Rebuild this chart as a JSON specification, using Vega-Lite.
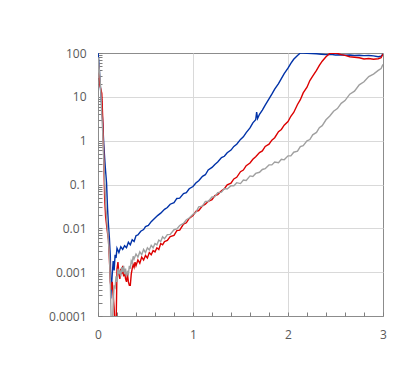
{
  "$schema": "https://vega.github.io/schema/vega-lite/v6.json",
  "width": 285,
  "height": 263,
  "autosize": {"type": "none"},
  "padding": {"left": 98, "top": 53, "right": 16, "bottom": 64},
  "background": "white",
  "config": {"view": {"stroke": "#8c8c8c", "strokeWidth": 1}, "font": "Open Sans"},
  "data": {"values": [
{"s":"blue","x":0,"v":100},{"s":"blue","x":0.01,"v":60},{"s":"blue","x":0.02,"v":25},{"s":"blue","x":0.03,"v":12},{"s":"blue","x":0.04,"v":6},{"s":"blue","x":0.05,"v":2.5},{"s":"blue","x":0.06,"v":0.9},{"s":"blue","x":0.07,"v":0.4},{"s":"blue","x":0.08,"v":0.2},{"s":"blue","x":0.09,"v":0.11},{"s":"blue","x":0.1,"v":0.03},{"s":"blue","x":0.11,"v":0.012},{"s":"blue","x":0.12,"v":0.006},{"s":"blue","x":0.13,"v":0.0022},{"s":"blue","x":0.135,"v":0.00025},{"s":"blue","x":0.14,"v":0.0004},{"s":"blue","x":0.15,"v":0.0009},{"s":"blue","x":0.16,"v":0.0018},{"s":"blue","x":0.17,"v":0.0011},{"s":"blue","x":0.18,"v":0.0025},{"s":"blue","x":0.19,"v":0.0021},{"s":"blue","x":0.2,"v":0.0035},{"s":"blue","x":0.22,"v":0.0028},{"s":"blue","x":0.24,"v":0.0038},{"s":"blue","x":0.26,"v":0.0033},{"s":"blue","x":0.28,"v":0.004},{"s":"blue","x":0.3,"v":0.0036},{"s":"blue","x":0.32,"v":0.0048},{"s":"blue","x":0.34,"v":0.0042},{"s":"blue","x":0.36,"v":0.0055},{"s":"blue","x":0.38,"v":0.005},{"s":"blue","x":0.4,"v":0.0068},{"s":"blue","x":0.42,"v":0.0071},{"s":"blue","x":0.45,"v":0.0086},{"s":"blue","x":0.48,"v":0.0094},{"s":"blue","x":0.5,"v":0.011},{"s":"blue","x":0.53,"v":0.0116},{"s":"blue","x":0.56,"v":0.0142},{"s":"blue","x":0.6,"v":0.0172},{"s":"blue","x":0.63,"v":0.0198},{"s":"blue","x":0.66,"v":0.0222},{"s":"blue","x":0.7,"v":0.0272},{"s":"blue","x":0.73,"v":0.0298},{"s":"blue","x":0.76,"v":0.0355},{"s":"blue","x":0.8,"v":0.0385},{"s":"blue","x":0.83,"v":0.048},{"s":"blue","x":0.86,"v":0.049},{"s":"blue","x":0.9,"v":0.062},{"s":"blue","x":0.93,"v":0.065},{"s":"blue","x":0.96,"v":0.08},{"s":"blue","x":1,"v":0.09},{"s":"blue","x":1.03,"v":0.108},{"s":"blue","x":1.06,"v":0.122},{"s":"blue","x":1.1,"v":0.154},{"s":"blue","x":1.13,"v":0.167},{"s":"blue","x":1.16,"v":0.215},{"s":"blue","x":1.2,"v":0.245},{"s":"blue","x":1.23,"v":0.287},{"s":"blue","x":1.26,"v":0.325},{"s":"blue","x":1.3,"v":0.41},{"s":"blue","x":1.33,"v":0.44},{"s":"blue","x":1.36,"v":0.53},{"s":"blue","x":1.4,"v":0.61},{"s":"blue","x":1.43,"v":0.74},{"s":"blue","x":1.46,"v":0.83},{"s":"blue","x":1.5,"v":1.07},{"s":"blue","x":1.53,"v":1.22},{"s":"blue","x":1.56,"v":1.53},{"s":"blue","x":1.6,"v":1.95},{"s":"blue","x":1.63,"v":2.55},{"s":"blue","x":1.66,"v":3},{"s":"blue","x":1.67,"v":4.5},{"s":"blue","x":1.68,"v":3.2},{"s":"blue","x":1.7,"v":4},{"s":"blue","x":1.73,"v":5},{"s":"blue","x":1.76,"v":6.5},{"s":"blue","x":1.8,"v":9},{"s":"blue","x":1.83,"v":11.5},{"s":"blue","x":1.86,"v":15},{"s":"blue","x":1.9,"v":20},{"s":"blue","x":1.93,"v":26},{"s":"blue","x":1.96,"v":34},{"s":"blue","x":2,"v":45},{"s":"blue","x":2.03,"v":58},{"s":"blue","x":2.06,"v":72},{"s":"blue","x":2.1,"v":88},{"s":"blue","x":2.13,"v":100},{"s":"blue","x":2.16,"v":100},{"s":"blue","x":2.2,"v":98},{"s":"blue","x":2.25,"v":97},{"s":"blue","x":2.3,"v":96},{"s":"blue","x":2.35,"v":94},{"s":"blue","x":2.4,"v":92},{"s":"blue","x":2.45,"v":93},{"s":"blue","x":2.5,"v":90},{"s":"blue","x":2.55,"v":91},{"s":"blue","x":2.6,"v":89},{"s":"blue","x":2.65,"v":90},{"s":"blue","x":2.7,"v":88},{"s":"blue","x":2.75,"v":89},{"s":"blue","x":2.8,"v":87},{"s":"blue","x":2.85,"v":88},{"s":"blue","x":2.9,"v":86},{"s":"blue","x":2.95,"v":82},{"s":"blue","x":2.98,"v":85},{"s":"blue","x":3,"v":95},
{"s":"red","x":0,"v":70},{"s":"red","x":0.01,"v":40},{"s":"red","x":0.02,"v":18},{"s":"red","x":0.03,"v":15},{"s":"red","x":0.04,"v":12},{"s":"red","x":0.05,"v":3},{"s":"red","x":0.06,"v":0.5},{"s":"red","x":0.07,"v":0.05},{"s":"red","x":0.08,"v":0.019},{"s":"red","x":0.09,"v":0.012},{"s":"red","x":0.1,"v":0.008},{"s":"red","x":0.11,"v":0.0055},{"s":"red","x":0.12,"v":0.002},{"s":"red","x":0.13,"v":0.0006},{"s":"red","x":0.14,"v":0.0004},{"s":"red","x":0.15,"v":0.0006},{"s":"red","x":0.16,"v":0.0003},{"s":"red","x":0.17,"v":0.00015},{"s":"red","x":0.18,"v":0.00005},{"s":"red","x":0.19,"v":0.00005},{"s":"red","x":0.2,"v":0.0012},{"s":"red","x":0.21,"v":0.0017},{"s":"red","x":0.22,"v":0.0009},{"s":"red","x":0.23,"v":0.0007},{"s":"red","x":0.24,"v":0.0012},{"s":"red","x":0.25,"v":0.0009},{"s":"red","x":0.26,"v":0.0014},{"s":"red","x":0.27,"v":0.0008},{"s":"red","x":0.28,"v":0.0011},{"s":"red","x":0.29,"v":0.0007},{"s":"red","x":0.3,"v":0.0006},{"s":"red","x":0.31,"v":0.0009},{"s":"red","x":0.32,"v":0.0006},{"s":"red","x":0.33,"v":0.0005},{"s":"red","x":0.34,"v":0.0005},{"s":"red","x":0.35,"v":0.0009},{"s":"red","x":0.36,"v":0.0012},{"s":"red","x":0.37,"v":0.0015},{"s":"red","x":0.38,"v":0.0013},{"s":"red","x":0.39,"v":0.0017},{"s":"red","x":0.4,"v":0.0014},{"s":"red","x":0.42,"v":0.0019},{"s":"red","x":0.44,"v":0.0016},{"s":"red","x":0.46,"v":0.0022},{"s":"red","x":0.48,"v":0.0019},{"s":"red","x":0.5,"v":0.0024},{"s":"red","x":0.52,"v":0.0021},{"s":"red","x":0.54,"v":0.0028},{"s":"red","x":0.56,"v":0.0025},{"s":"red","x":0.58,"v":0.0031},{"s":"red","x":0.6,"v":0.0029},{"s":"red","x":0.62,"v":0.0036},{"s":"red","x":0.64,"v":0.0033},{"s":"red","x":0.66,"v":0.0045},{"s":"red","x":0.68,"v":0.0042},{"s":"red","x":0.7,"v":0.005},{"s":"red","x":0.73,"v":0.0053},{"s":"red","x":0.76,"v":0.0065},{"s":"red","x":0.8,"v":0.0069},{"s":"red","x":0.83,"v":0.0089},{"s":"red","x":0.86,"v":0.0091},{"s":"red","x":0.9,"v":0.0125},{"s":"red","x":0.93,"v":0.0134},{"s":"red","x":0.96,"v":0.0168},{"s":"red","x":1,"v":0.0195},{"s":"red","x":1.03,"v":0.0245},{"s":"red","x":1.06,"v":0.0255},{"s":"red","x":1.1,"v":0.0325},{"s":"red","x":1.13,"v":0.0355},{"s":"red","x":1.16,"v":0.0415},{"s":"red","x":1.2,"v":0.045},{"s":"red","x":1.23,"v":0.056},{"s":"red","x":1.26,"v":0.059},{"s":"red","x":1.3,"v":0.072},{"s":"red","x":1.33,"v":0.08},{"s":"red","x":1.36,"v":0.098},{"s":"red","x":1.4,"v":0.107},{"s":"red","x":1.43,"v":0.134},{"s":"red","x":1.46,"v":0.146},{"s":"red","x":1.5,"v":0.196},{"s":"red","x":1.53,"v":0.214},{"s":"red","x":1.56,"v":0.268},{"s":"red","x":1.6,"v":0.31},{"s":"red","x":1.63,"v":0.375},{"s":"red","x":1.66,"v":0.43},{"s":"red","x":1.7,"v":0.535},{"s":"red","x":1.73,"v":0.585},{"s":"red","x":1.76,"v":0.74},{"s":"red","x":1.8,"v":0.83},{"s":"red","x":1.83,"v":1.03},{"s":"red","x":1.86,"v":1.17},{"s":"red","x":1.9,"v":1.6},{"s":"red","x":1.93,"v":1.8},{"s":"red","x":1.96,"v":2.26},{"s":"red","x":2,"v":2.72},{"s":"red","x":2.03,"v":3.6},{"s":"red","x":2.06,"v":4.4},{"s":"red","x":2.1,"v":6.7},{"s":"red","x":2.13,"v":8.6},{"s":"red","x":2.16,"v":12.3},{"s":"red","x":2.2,"v":16.6},{"s":"red","x":2.23,"v":23.5},{"s":"red","x":2.26,"v":29.5},{"s":"red","x":2.3,"v":40},{"s":"red","x":2.33,"v":52},{"s":"red","x":2.36,"v":65},{"s":"red","x":2.4,"v":82},{"s":"red","x":2.44,"v":98},{"s":"red","x":2.48,"v":100},{"s":"red","x":2.52,"v":98},{"s":"red","x":2.56,"v":92},{"s":"red","x":2.6,"v":88},{"s":"red","x":2.65,"v":82},{"s":"red","x":2.7,"v":80},{"s":"red","x":2.75,"v":78},{"s":"red","x":2.8,"v":73},{"s":"red","x":2.85,"v":75},{"s":"red","x":2.9,"v":72},{"s":"red","x":2.95,"v":74},{"s":"red","x":2.98,"v":78},{"s":"red","x":3,"v":95},
{"s":"gray","x":0,"v":27},{"s":"gray","x":0.005,"v":80},{"s":"gray","x":0.01,"v":50},{"s":"gray","x":0.02,"v":30},{"s":"gray","x":0.03,"v":12},{"s":"gray","x":0.04,"v":4},{"s":"gray","x":0.05,"v":1.5},{"s":"gray","x":0.06,"v":0.4},{"s":"gray","x":0.07,"v":0.12},{"s":"gray","x":0.08,"v":0.04},{"s":"gray","x":0.09,"v":0.018},{"s":"gray","x":0.1,"v":0.01},{"s":"gray","x":0.11,"v":0.005},{"s":"gray","x":0.12,"v":0.0023},{"s":"gray","x":0.13,"v":0.0006},{"s":"gray","x":0.14,"v":0.00005},{"s":"gray","x":0.15,"v":0.00005},{"s":"gray","x":0.16,"v":0.0002},{"s":"gray","x":0.17,"v":0.0005},{"s":"gray","x":0.18,"v":0.00045},{"s":"gray","x":0.19,"v":0.0008},{"s":"gray","x":0.2,"v":0.0006},{"s":"gray","x":0.21,"v":0.0012},{"s":"gray","x":0.22,"v":0.0009},{"s":"gray","x":0.23,"v":0.0011},{"s":"gray","x":0.24,"v":0.0008},{"s":"gray","x":0.25,"v":0.0013},{"s":"gray","x":0.26,"v":0.001},{"s":"gray","x":0.27,"v":0.0014},{"s":"gray","x":0.28,"v":0.0009},{"s":"gray","x":0.29,"v":0.0012},{"s":"gray","x":0.3,"v":0.0008},{"s":"gray","x":0.31,"v":0.001},{"s":"gray","x":0.32,"v":0.0009},{"s":"gray","x":0.33,"v":0.0014},{"s":"gray","x":0.34,"v":0.0012},{"s":"gray","x":0.35,"v":0.0018},{"s":"gray","x":0.36,"v":0.0016},{"s":"gray","x":0.37,"v":0.0023},{"s":"gray","x":0.38,"v":0.002},{"s":"gray","x":0.4,"v":0.0026},{"s":"gray","x":0.42,"v":0.0022},{"s":"gray","x":0.44,"v":0.0029},{"s":"gray","x":0.46,"v":0.0025},{"s":"gray","x":0.48,"v":0.0033},{"s":"gray","x":0.5,"v":0.0028},{"s":"gray","x":0.52,"v":0.0036},{"s":"gray","x":0.54,"v":0.0032},{"s":"gray","x":0.56,"v":0.0041},{"s":"gray","x":0.58,"v":0.0036},{"s":"gray","x":0.6,"v":0.0045},{"s":"gray","x":0.62,"v":0.0042},{"s":"gray","x":0.64,"v":0.0054},{"s":"gray","x":0.66,"v":0.005},{"s":"gray","x":0.68,"v":0.0064},{"s":"gray","x":0.7,"v":0.0058},{"s":"gray","x":0.73,"v":0.0072},{"s":"gray","x":0.76,"v":0.0073},{"s":"gray","x":0.8,"v":0.0093},{"s":"gray","x":0.83,"v":0.0097},{"s":"gray","x":0.86,"v":0.0116},{"s":"gray","x":0.9,"v":0.013},{"s":"gray","x":0.93,"v":0.0157},{"s":"gray","x":0.96,"v":0.0172},{"s":"gray","x":1,"v":0.021},{"s":"gray","x":1.03,"v":0.023},{"s":"gray","x":1.06,"v":0.031},{"s":"gray","x":1.1,"v":0.032},{"s":"gray","x":1.13,"v":0.041},{"s":"gray","x":1.16,"v":0.041},{"s":"gray","x":1.2,"v":0.052},{"s":"gray","x":1.23,"v":0.053},{"s":"gray","x":1.26,"v":0.065},{"s":"gray","x":1.3,"v":0.067},{"s":"gray","x":1.33,"v":0.081},{"s":"gray","x":1.36,"v":0.079},{"s":"gray","x":1.4,"v":0.094},{"s":"gray","x":1.43,"v":0.094},{"s":"gray","x":1.46,"v":0.11},{"s":"gray","x":1.5,"v":0.105},{"s":"gray","x":1.53,"v":0.126},{"s":"gray","x":1.56,"v":0.124},{"s":"gray","x":1.6,"v":0.157},{"s":"gray","x":1.63,"v":0.152},{"s":"gray","x":1.66,"v":0.179},{"s":"gray","x":1.7,"v":0.19},{"s":"gray","x":1.73,"v":0.22},{"s":"gray","x":1.76,"v":0.23},{"s":"gray","x":1.8,"v":0.28},{"s":"gray","x":1.83,"v":0.28},{"s":"gray","x":1.86,"v":0.325},{"s":"gray","x":1.9,"v":0.315},{"s":"gray","x":1.93,"v":0.375},{"s":"gray","x":1.96,"v":0.365},{"s":"gray","x":2,"v":0.45},{"s":"gray","x":2.03,"v":0.45},{"s":"gray","x":2.06,"v":0.545},{"s":"gray","x":2.1,"v":0.575},{"s":"gray","x":2.13,"v":0.73},{"s":"gray","x":2.16,"v":0.77},{"s":"gray","x":2.2,"v":0.99},{"s":"gray","x":2.23,"v":1.06},{"s":"gray","x":2.26,"v":1.36},{"s":"gray","x":2.3,"v":1.54},{"s":"gray","x":2.33,"v":1.98},{"s":"gray","x":2.36,"v":2.2},{"s":"gray","x":2.4,"v":3},{"s":"gray","x":2.44,"v":3.65},{"s":"gray","x":2.48,"v":4.7},{"s":"gray","x":2.52,"v":5.4},{"s":"gray","x":2.56,"v":7.1},{"s":"gray","x":2.6,"v":8.2},{"s":"gray","x":2.65,"v":11.5},{"s":"gray","x":2.7,"v":13.5},{"s":"gray","x":2.75,"v":18.8},{"s":"gray","x":2.8,"v":22},{"s":"gray","x":2.85,"v":29},{"s":"gray","x":2.9,"v":33},{"s":"gray","x":2.95,"v":40},{"s":"gray","x":2.98,"v":44},{"s":"gray","x":3,"v":55}
  ]},
  "mark": {"type": "line", "strokeWidth": 1.4, "clip": true},
  "encoding": {
    "x": {
      "field": "x", "type": "quantitative",
      "scale": {"domain": [0, 3], "nice": false, "zero": false},
      "axis": {
        "title": null,
        "values": [0, 0.2, 0.4, 0.6, 0.8, 1, 1.2, 1.4, 1.6, 1.8, 2, 2.2, 2.4, 2.6, 2.8, 3],
        "format": "~g",
        "labelExpr": "indexof([0,1,2,3], datum.value) >= 0 ? datum.label : ''",
        "labelFlush": false,
        "labelOverlap": false,
        "domain": false,
        "grid": true,
        "gridColor": "#d9d9d9",
        "gridOpacity": {"condition": {"test": "indexof([1,2], datum.value) >= 0", "value": 1}, "value": 0},
        "tickSize": -4,
        "tickColor": "#7f7f7f",
        "labelFont": "Open Sans",
        "labelFontSize": 12,
        "labelColor": "#595959",
        "labelPadding": 17
      }
    },
    "y": {
      "field": "v", "type": "quantitative",
      "scale": {"type": "log", "domain": [0.0001, 100], "nice": false},
      "axis": {
        "title": null,
        "values": [0.0001,0.0002,0.0003,0.0004,0.0005,0.0006,0.0007,0.0008,0.0009,0.001,0.002,0.003,0.004,0.005,0.006,0.007,0.008,0.009,0.01,0.02,0.03,0.04,0.05,0.06,0.07,0.08,0.09,0.1,0.2,0.3,0.4,0.5,0.6,0.7,0.8,0.9,1,2,3,4,5,6,7,8,9,10,20,30,40,50,60,70,80,90,100],
        "format": "~g",
        "labelExpr": "indexof([0.0001,0.001,0.01,0.1,1,10,100], datum.value) >= 0 ? datum.label : ''",
        "domain": false,
        "grid": true,
        "gridColor": "#d9d9d9",
        "gridOpacity": {"condition": {"test": "indexof([0.001,0.01,0.1,1,10], datum.value) >= 0", "value": 1}, "value": 0},
        "tickSize": -4,
        "tickColor": "#7f7f7f",
        "labelFont": "Open Sans",
        "labelFontSize": 12,
        "labelColor": "#595959",
        "labelPadding": 16,
        "labelFlush": false,
        "labelOverlap": false
      }
    },
    "color": {
      "field": "s", "type": "nominal",
      "scale": {"domain": ["blue", "red", "gray"], "range": ["#0032a8", "#dc0000", "#a0a0a0"]},
      "legend": null
    }
  }
}
